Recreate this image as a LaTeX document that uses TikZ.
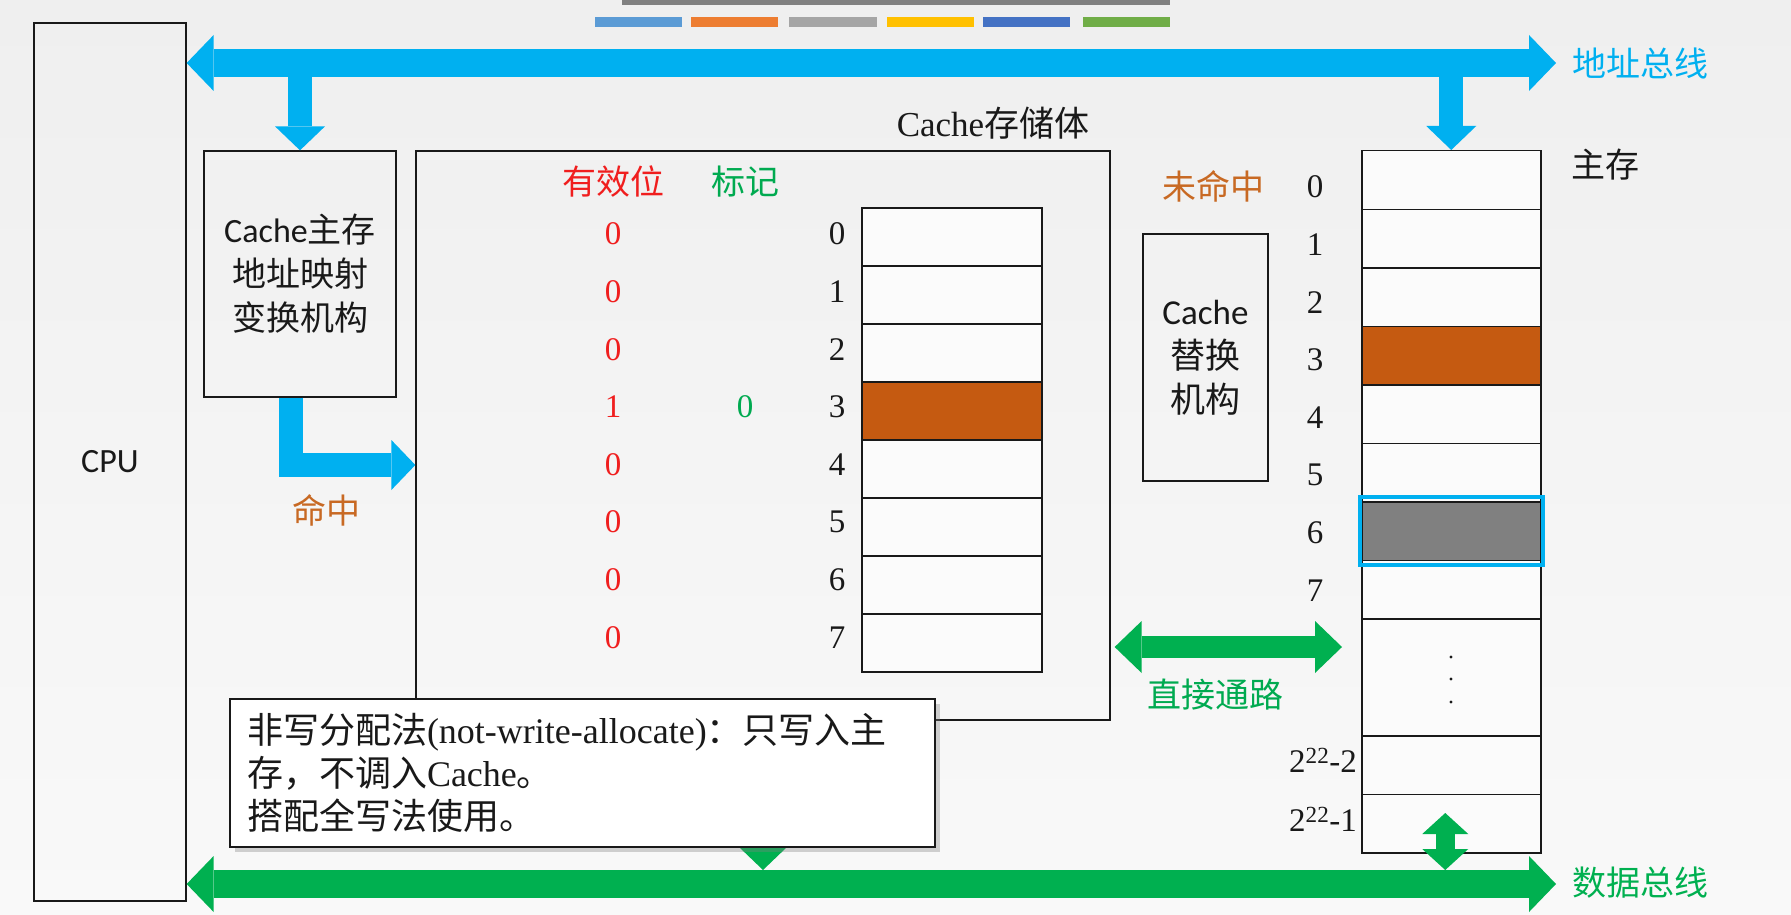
\documentclass[tikz,border=0pt]{standalone}
\usepackage{fontspec}
\setmainfont{Liberation Serif}
\newfontfamily\cjk{Noto Sans CJK SC}
\newfontfamily\carl{Carlito}
\usetikzlibrary{arrows.meta,shadows}
\definecolor{busblue}{RGB}{0,176,240}
\definecolor{busgreen}{RGB}{0,176,80}
\definecolor{brick}{RGB}{197,90,17}
\definecolor{hitorange}{RGB}{200,105,35}
\definecolor{vred}{RGB}{240,30,30}
\definecolor{tgreen}{RGB}{0,170,80}
\definecolor{ink}{RGB}{25,25,25}
\definecolor{cellbg}{RGB}{251,251,251}
\definecolor{bgtop}{RGB}{239,239,239}
\definecolor{bgbot}{RGB}{249,249,249}
\definecolor{memgray}{RGB}{128,128,128}
\definecolor{barA}{RGB}{91,155,213}
\definecolor{barB}{RGB}{237,125,49}
\definecolor{barC}{RGB}{165,165,165}
\definecolor{barD}{RGB}{255,192,0}
\definecolor{barE}{RGB}{68,114,196}
\definecolor{barF}{RGB}{112,173,71}
\definecolor{topbar}{RGB}{128,128,128}
\begin{document}
\begin{tikzpicture}[x=1pt,y=-1pt,
  box/.style={draw=ink,line width=1.3pt,inner sep=0pt,rectangle,text=ink},
  ccell/.style={draw=ink,line width=1.5pt,fill=cellbg,minimum width=180pt,minimum height=58pt,anchor=north west,inner sep=0pt},
  mcell/.style={draw=ink,line width=1.5pt,fill=cellbg,minimum width=179pt,minimum height=58.5pt,anchor=north west,inner sep=0pt},
  idx/.style={text=ink,font=\fontsize{33}{36}\selectfont,inner sep=0pt},
  zh/.style={font=\cjk\fontsize{34}{40}\selectfont,inner sep=0pt},
  bus/.style={line width=28pt,{Triangle[length=27pt,width=56pt,line width=0pt]}-{Triangle[length=27pt,width=56pt,line width=0pt]}},
  feedblue/.style={draw=busblue,line width=24pt,-{Triangle[length=24pt,width=50pt,line width=0pt]},line join=miter},
  pathgreen/.style={draw=busgreen,line width=22pt,{Triangle[length=27pt,width=52pt,line width=0pt]}-{Triangle[length=27pt,width=52pt,line width=0pt]}},
  downgreen/.style={draw=busgreen,line width=22pt,-{Triangle[length=23pt,width=48pt,line width=0pt]}},
  tinygreen/.style={draw=busgreen,line width=19pt,{Triangle[length=21pt,width=46pt,line width=0pt]}-{Triangle[length=21pt,width=46pt,line width=0pt]}}
]
\useasboundingbox (0,0) rectangle (1791,915);
\shade[top color=bgtop,bottom color=bgbot] (0,0) rectangle (1791,915);

% slide decoration bars
\fill[topbar] (622,0) rectangle (1170,5);
\fill[barA] (595,17) rectangle (682,27);
\fill[barB] (691,17) rectangle (778,27);
\fill[barC] (789,17) rectangle (877,27);
\fill[barD] (887,17) rectangle (974,27);
\fill[barE] (983,17) rectangle (1070,27);
\fill[barF] (1083,17) rectangle (1170,27);

% boxes
\node[box,minimum width=152pt,minimum height=878pt,font=\carl\fontsize{34}{40}\selectfont] (cpu) at (110,462) {CPU};
\node[box,minimum width=192pt,minimum height=246pt,align=center,font=\fontsize{34}{44}\selectfont] (map) at (300,274) {{\carl Cache}{\cjk 主存}\\{\cjk 地址映射}\\{\cjk 变换机构}};
\node[box,minimum width=694pt,minimum height=569pt] (cache) at (763,435.5) {};
\node[box,minimum width=125pt,minimum height=247pt,align=center,font=\fontsize{35}{44}\selectfont] (repl) at (1205.5,357.5) {{\carl Cache}\\{\cjk 替换}\\{\cjk 机构}};

% cache lines
\foreach \i in {0,...,7} \node[ccell] (c\i) at (861,207+58*\i) {};
\node[ccell,fill=brick] (c3) at (861,381) {};
\foreach \i in {0,...,7} {
  \node[idx] (ci\i) at (837,234+57.6*\i) {\i};
  \node[idx,text=vred] (v\i) at (613,234+57.6*\i) {\ifnum\i=3 1\else 0\fi};
}
\node[idx,text=tgreen] (tag3) at (745,407) {0};
\node[zh,text=vred] (hv) at (613,182) {有效位};
\node[zh,text=tgreen] (ht) at (745,182) {标记};
\node[text=ink,inner sep=0pt,font=\fontsize{35}{40}\selectfont] (cst) at (993,123) {Cache{\cjk 存储体}};

% main memory
\foreach \i in {0,...,7} \node[mcell] (m\i) at (1361,150+58.5*\i) {};
\node[mcell,fill=brick] (m3) at (1361,325.5) {};
\node[mcell,fill=memgray] (m6) at (1361,501) {};
\node[mcell,minimum height=117pt] (mdots) at (1361,618) {};
\node[mcell] (mA) at (1361,735) {};
\node[mcell] (mB) at (1361,793.5) {};
\draw[busblue,line width=4pt] ([shift={(-1,-4)}]m6.north west) rectangle ([shift={(1,4)}]m6.south east);
\foreach \yy in {657,679,702} \fill[ink] (1451,\yy) circle (1.7pt);
\foreach \i in {0,...,7} \node[idx] (mi\i) at (1315,187+57.6*\i) {\i};
\node[idx,anchor=east] (miA) at (1357,760) {2\textsuperscript{22}-2};
\node[idx,anchor=east] (miB) at (1357,819) {2\textsuperscript{22}-1};
\node[zh,text=ink] (mml) at (1605,165) {主存};

% labels
\node[zh,text=hitorange] (miss) at (1213,186) {未命中};
\node[zh,text=hitorange] (hit) at (326,510) {命中};
\node[zh,text=tgreen] (direct) at (1215,695) {直接通路};
\node[zh,text=busblue] (abl) at (1640,63) {地址总线};
\node[zh,text=busgreen] (dbl) at (1640,883) {数据总线};

% coordinates for bus ends
\coordinate (abusR) at (1556,63);
\coordinate (dbusR) at (1556,884);
\coordinate (hitY) at (0,465);
\coordinate (pathY) at (0,647);
\coordinate (dbusTop) at (0,870);
\coordinate (tinyTop) at (0,813);
\coordinate (hitStart) at ([xshift=-9pt]map.south);
\coordinate (tinyX) at ([xshift=-6pt]mB.center);

% connectors
\draw[bus,draw=busblue] (cpu.east |- abusR) -- (abusR);
\draw[feedblue] (map.north |- abusR) -- (map.north);
\draw[feedblue] (m0.north |- abusR) -- (m0.north);
\draw[feedblue] (hitStart) |- (cache.west |- hitY);
\draw[bus,draw=busgreen] (cpu.east |- dbusR) -- (dbusR);
\draw[pathgreen,shorten <=4pt,shorten >=19pt] (cache.east |- pathY) -- (mdots.west |- pathY);
\draw[downgreen] (cache.south) -- (cache.south |- dbusTop);
\draw[tinygreen] (tinyX |- tinyTop) -- (tinyX |- dbusTop);

% note
\node[draw=ink,line width=1.3pt,fill=white,drop shadow={shadow xshift=5pt,shadow yshift=-5pt,opacity=0.35},minimum width=705pt,minimum height=148pt,text width=671pt,inner xsep=17pt,inner ysep=0pt,align=left,font=\fontsize{36}{43}\selectfont,text=ink] (note) at (582.5,773) {{\cjk 非写分配法}(not-write-allocate){\cjk ：只写入主}\\{\cjk 存，不调入}Cache{\cjk 。}\\{\cjk 搭配全写法使用。}};
\end{tikzpicture}
\end{document}
